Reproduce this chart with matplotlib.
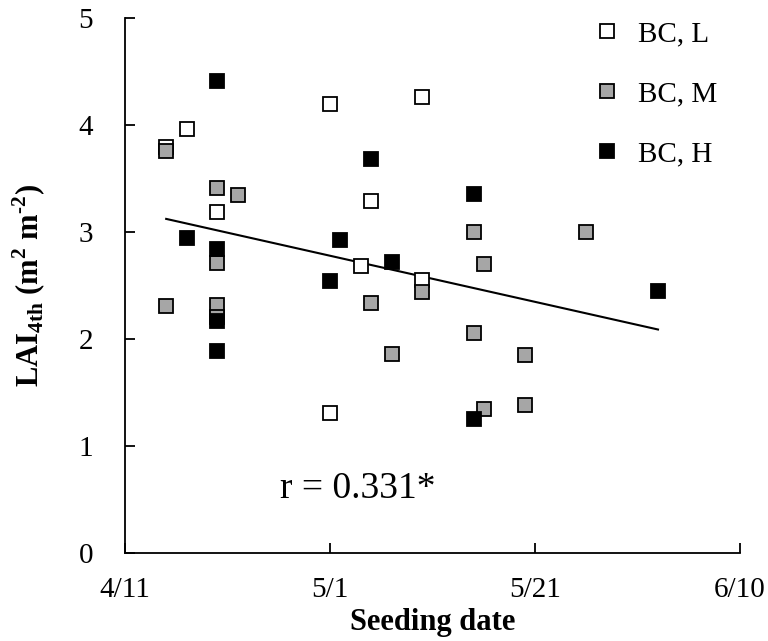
import numpy as np
import pandas as pd
import matplotlib
matplotlib.use('Agg')
import matplotlib.pyplot as plt
import matplotlib.dates as mdates

plt.rcParams['font.family'] = ['Liberation Serif', 'DejaVu Serif']
plt.rcParams['mathtext.fontset'] = 'custom'
plt.rcParams['mathtext.rm'] = 'Liberation Serif'
plt.rcParams['mathtext.bf'] = 'Liberation Serif:bold'

YEAR = 2013

# BC, L
low_dates = ['4/15', '4/17', '4/20', '5/1', '5/10', '5/5', '5/4', '5/10', '5/1']
low_lai = [3.79, 3.96, 3.19, 4.20, 4.26, 3.29, 2.68, 2.55, 1.31]

# BC, M
mid_dates = ['4/15', '4/15', '4/20', '4/22', '4/20', '4/20', '4/20', '5/5', '5/7',
             '5/10', '5/15', '5/16', '5/15', '5/20', '5/16', '5/20', '5/26']
mid_lai = [3.76, 2.31, 3.41, 3.35, 2.71, 2.32, 2.21, 2.34, 1.86,
           2.44, 3.00, 2.70, 2.06, 1.85, 1.35, 1.38, 3.00]

# BC, H
high_dates = ['4/20', '4/17', '4/20', '4/20', '4/20', '5/5', '5/2', '5/1', '5/7',
              '5/15', '5/15', '6/2']
high_lai = [4.41, 2.94, 2.84, 2.17, 1.89, 3.68, 2.93, 2.54, 2.72,
            3.36, 1.25, 2.45]

tick_dates = ['4/11', '5/1', '5/21', '6/10']


def to_dates(md):
    return pd.to_datetime([f'{YEAR}/{d}' for d in md], format='%Y/%m/%d')


fig = plt.figure(figsize=(7.68, 6.41), dpi=100)
ax = fig.add_axes([0.163, 0.137, 0.8005, 0.835])

groups = [
    (low_dates, low_lai, 'white', 'BC, L'),
    (mid_dates, mid_lai, '#a6a6a6', 'BC, M'),
    (high_dates, high_lai, 'black', 'BC, H'),
]
for dates, vals, color, label in groups:
    ax.plot(to_dates(dates), vals, 's', ms=10.3, mfc=color, mec='black',
            mew=1.3, label=label, zorder=3)

# linear fit over all points
all_d = np.concatenate([mdates.date2num(to_dates(g[0])) for g in groups])
all_v = np.concatenate([g[1] for g in groups])
k, b = np.polyfit(all_d, all_v, 1)
xs = np.array([all_d.min(), all_d.max()])
ax.plot(xs, k * xs + b, color='black', lw=1.5, zorder=2)

ticks = to_dates(tick_dates)
ax.set_xlim(ticks[0], ticks[-1])
ax.set_xticks(ticks)
ax.set_xticklabels(tick_dates)
ax.set_ylim(0, 5)
ax.set_yticks(range(6))

for s in ['top', 'right']:
    ax.spines[s].set_visible(False)
for s in ['left', 'bottom']:
    ax.spines[s].set_linewidth(1.3)
ax.tick_params(direction='in', length=7, width=1.3, labelsize=21)
ax.tick_params(axis='x', pad=17)
ax.tick_params(axis='y', pad=23)

ax.set_xlabel('Seeding date', fontsize=22, fontweight='bold', labelpad=4)
ax.set_ylabel(r'LAI$_{\mathbf{4th}}$ (m$^{\mathbf{2}}$ m$^{\mathbf{\text{-}2}}$)',
              fontsize=22, fontweight='bold', labelpad=22)

ax.text(0.252, 0.12, 'r = 0.331*', transform=ax.transAxes, fontsize=27,
        va='center')

ax.legend(loc='upper right', bbox_to_anchor=(0.963, 0.994), frameon=False,
          fontsize=21, numpoints=1, handlelength=1.0,
          handletextpad=0.55, labelspacing=1.15, borderpad=0, borderaxespad=0)

fig.savefig('out.png', dpi=100)
